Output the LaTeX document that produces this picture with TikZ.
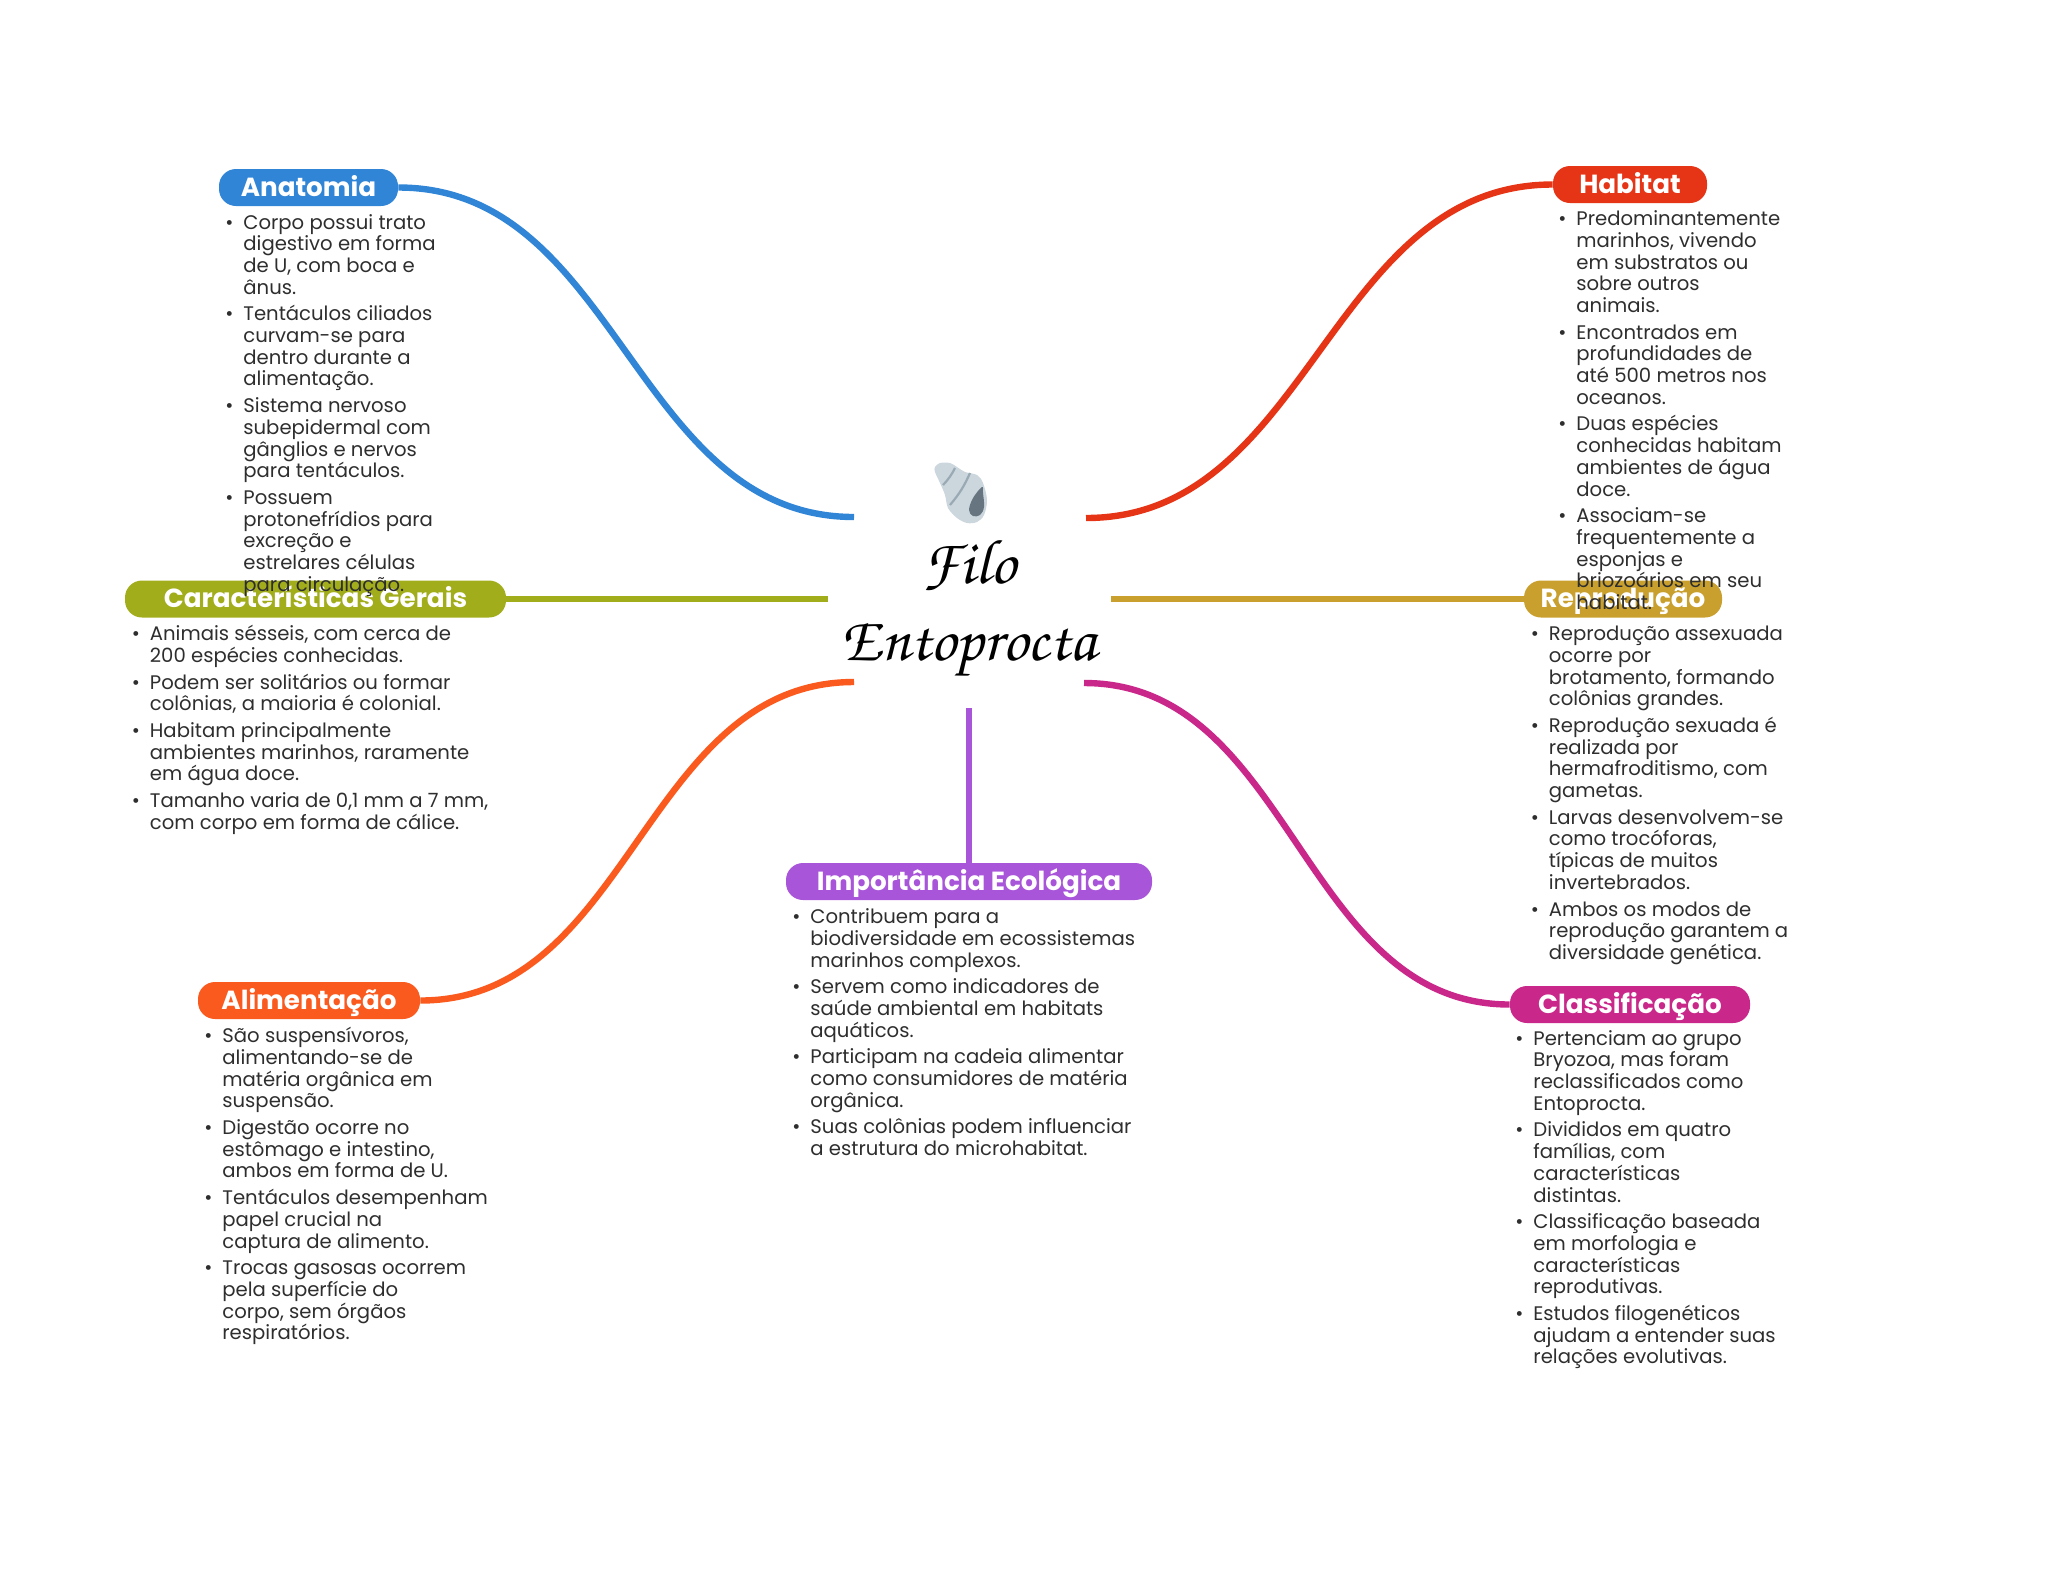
\documentclass[tikz,border=0pt]{standalone}
\usepackage{fontspec}
\setmainfont{Poppins}
\usepackage{xcolor}
\usepackage{tikz}
\usetikzlibrary{positioning}
\definecolor{azul}{HTML}{3185D6}
\definecolor{vermelho}{HTML}{E53516}
\definecolor{oliva}{HTML}{A2AD1B}
\definecolor{ouro}{HTML}{C9A02E}
\definecolor{laranja}{HTML}{FA5A1E}
\definecolor{roxo}{HTML}{A855D9}
\definecolor{magenta}{HTML}{C9278A}
\definecolor{texto}{HTML}{2E2E2E}
\definecolor{concha}{HTML}{CCD6DD}
\definecolor{listra}{HTML}{99AAB5}
\definecolor{abertura}{HTML}{66757F}
\newcommand{\bl}{\strut\llap{\textbullet\hspace{5pt}}}
\newcommand{\fontecorpo}{\fontsize{9.82}{10.85}\selectfont\lineskiplimit=-20pt\relax}
\tikzset{
  topic/.style={fill=#1,text=white,rounded corners=8.5pt,inner sep=0pt,minimum height=18.5pt,text height=10pt,text depth=1.5pt,font=\fontsize{13.1}{14}\selectfont\bfseries},
  bodytext/.style={anchor=north west,inner sep=0pt,align=left,text=texto,font=\fontecorpo},
  branch/.style={line width=3.2pt,#1},
  titletext/.style={align=center,inner sep=0pt,font=\fontsize{31.6}{38.5}\usefont{OT1}{pzc}{mb}{it}}
}
\begin{document}
\begin{tikzpicture}[x=0.5pt,y=-0.5pt]
  \useasboundingbox (0,0) rectangle (2048,1569);
  % centre
  \node[titletext](titulo) at (969,609) {Filo\\Entoprocta};
  \coordinate (fimanatomia) at (854,517);
  \coordinate (fimhabitat) at (1086,518);
  \coordinate (fimgerais) at (828,599);
  \coordinate (fimreproducao) at (1111,599);
  \coordinate (fimalimentacao) at (854,682);
  \coordinate (fimclassificacao) at (1084,683);
  \coordinate (fimimportancia) at (969,708);
  % shell
  \fill[concha] plot[smooth cycle,tension=0.55] coordinates {(935,467) (940,463) (950,463) (957,467) (965,472) (977,475) (983,483) (987,500) (984,515) (977,522) (967,523) (957,518) (948,508) (945,495) (940,483) (935,472)};
  \fill[abertura] plot[smooth cycle,tension=0.6] coordinates {(982,487) (973,498) (969,510) (973,516) (980,515) (984,507) (983,493)};
  \draw[line width=1.1pt,listra] (955,468) to[bend left=8] (943,485);
  \draw[line width=1.1pt,listra] (970,473) to[bend left=8] (950,505);
  % topics
  \node[topic=azul,minimum width=89.5pt](anatomia) at (308.5,187.5) {Anatomia};
  \node[topic=vermelho,minimum width=77pt](habitat) at (1630,184.5) {Habitat};
  \node[topic=oliva,minimum width=190.5pt](gerais) at (315.5,599) {Características Gerais};
  \node[topic=ouro,minimum width=99pt](reproducao) at (1623,599) {Reprodução};
  \node[topic=laranja,minimum width=111pt](alimentacao) at (309,1000.5) {Alimentação};
  \node[topic=roxo,minimum width=183pt](importancia) at (969,881.5) {Importância Ecológica};
  \node[topic=magenta,minimum width=120pt](classificacao) at (1630,1004.5) {Classificação};
  % branches
  \draw[branch=azul] (anatomia.east) to[out=0,in=180] (fimanatomia);
  \draw[branch=vermelho] (habitat.west) to[out=180,in=0] (fimhabitat);
  \draw[branch=oliva] (gerais.east) -- (fimgerais);
  \draw[branch=ouro] (reproducao.west) -- (fimreproducao);
  \draw[branch=laranja] (alimentacao.east) to[out=0,in=180] (fimalimentacao);
  \draw[branch=magenta] (classificacao.west) to[out=180,in=0] (fimclassificacao);
  \draw[branch=roxo] (importancia.north) -- (fimimportancia);
  % lists
  \node[bodytext](listaanatomia) at (243,213.5) {\bl Corpo possui trato\\digestivo em forma\\de U, com boca e\\ânus.\\[2.5pt]
    \bl Tentáculos ciliados\\curvam-se para\\dentro durante a\\alimentação.\\[2.5pt]
    \bl Sistema nervoso\\subepidermal com\\gânglios e nervos\\para tentáculos.\\[2.5pt]
    \bl Possuem\\protonefrídios para\\excreção e\\estrelares células\\para circulação.};
  \node[bodytext](listahabitat) at (1576,210) {\bl Predominantemente\\marinhos, vivendo\\em substratos ou\\sobre outros\\animais.\\[2.5pt]
    \bl Encontrados em\\profundidades de\\até 500 metros nos\\oceanos.\\[2.5pt]
    \bl Duas espécies\\conhecidas habitam\\ambientes de água\\doce.\\[2.5pt]
    \bl Associam-se\\frequentemente a\\esponjas e\\briozoários em seu\\habitat.};
  \node[bodytext](listagerais) at (149.5,625) {\bl Animais sésseis, com cerca de\\200 espécies conhecidas.\\[2.5pt]
    \bl Podem ser solitários ou formar\\colônias, a maioria é colonial.\\[2.5pt]
    \bl Habitam principalmente\\ambientes marinhos, raramente\\em água doce.\\[2.5pt]
    \bl Tamanho varia de 0,1 mm a 7 mm,\\com corpo em forma de cálice.};
  \node[bodytext](listareproducao) at (1548.5,625) {\bl Reprodução assexuada\\ocorre por\\brotamento, formando\\colônias grandes.\\[2.5pt]
    \bl Reprodução sexuada é\\realizada por\\hermafroditismo, com\\gametas.\\[2.5pt]
    \bl Larvas desenvolvem-se\\como trocóforas,\\típicas de muitos\\invertebrados.\\[2.5pt]
    \bl Ambos os modos de\\reprodução garantem a\\diversidade genética.};
  \node[bodytext](listaalimentacao) at (222,1027) {\bl São suspensívoros,\\alimentando-se de\\matéria orgânica em\\suspensão.\\[2.5pt]
    \bl Digestão ocorre no\\estômago e intestino,\\ambos em forma de U.\\[2.5pt]
    \bl Tentáculos desempenham\\papel crucial na\\captura de alimento.\\[2.5pt]
    \bl Trocas gasosas ocorrem\\pela superfície do\\corpo, sem órgãos\\respiratórios.};
  \node[bodytext](listaimportancia) at (810,908) {\bl Contribuem para a\\biodiversidade em ecossistemas\\marinhos complexos.\\[2.5pt]
    \bl Servem como indicadores de\\saúde ambiental em habitats\\aquáticos.\\[2.5pt]
    \bl Participam na cadeia alimentar\\como consumidores de matéria\\orgânica.\\[2.5pt]
    \bl Suas colônias podem influenciar\\a estrutura do microhabitat.};
  \node[bodytext](listaclassificacao) at (1533,1029.5) {\bl Pertenciam ao grupo\\Bryozoa, mas foram\\reclassificados como\\Entoprocta.\\[2.5pt]
    \bl Divididos em quatro\\famílias, com\\características\\distintas.\\[2.5pt]
    \bl Classificação baseada\\em morfologia e\\características\\reprodutivas.\\[2.5pt]
    \bl Estudos filogenéticos\\ajudam a entender suas\\relações evolutivas.};
\end{tikzpicture}
\end{document}
